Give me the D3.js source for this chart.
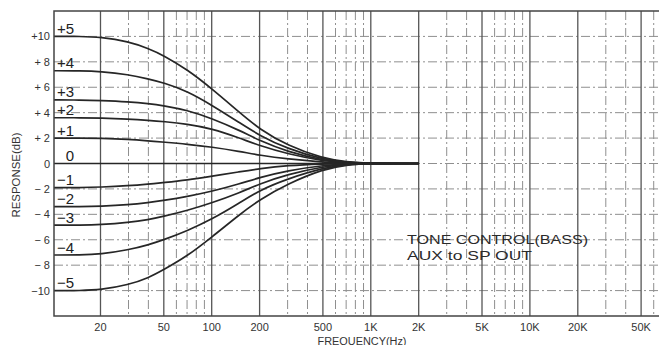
<!DOCTYPE html>
<html>
<head>
<meta charset="utf-8">
<script src="https://cdn.jsdelivr.net/npm/d3@7"></script>
<style>
  html, body { margin: 0; padding: 0; background: #fff; }
  svg { display: block; }
  text { font-family: "Liberation Sans", Arial, sans-serif; fill: #333; }
</style>
</head>
<body>
<svg id="chart" width="659" height="345"></svg>
<script>
// ---- data ----
const freqs = [10, 15, 20, 30, 40, 50, 70, 100, 150, 200, 300, 500, 700, 1000, 2000];
const seriesNames = ["+5", "+4", "+3", "+2", "+1", "0", "−1", "−2", "−3", "−4", "−5"];
const p5 = [10.0, 10.0, 9.95, 9.6, 9.05, 8.5, 7.4, 5.9, 4.0, 2.7, 1.4, 0.4, 0.12, 0, 0];
const p4 = [7.3, 7.3, 7.25, 7.0, 6.65, 6.35, 5.7, 4.6, 3.2, 2.2, 1.15, 0.32, 0.09, 0, 0];
const p3 = [5.0, 5.0, 4.95, 4.85, 4.72, 4.55, 4.2, 3.55, 2.6, 1.8, 0.92, 0.26, 0.06, 0, 0];
const p2 = [3.6, 3.6, 3.58, 3.5, 3.4, 3.3, 3.1, 2.75, 2.0, 1.4, 0.75, 0.2, 0.05, 0, 0];
const p1 = [2.0, 2.0, 1.98, 1.9, 1.78, 1.68, 1.52, 1.3, 0.95, 0.65, 0.35, 0.1, 0.02, 0, 0];
const z0 = [0, 0, 0, 0, 0, 0, 0, 0, 0, 0, 0, 0, 0, 0, 0];
const m1 = [-1.9, -1.9, -1.86, -1.75, -1.62, -1.5, -1.3, -1.0, -0.65, -0.4, -0.15, -0.03, 0, 0, 0];
const m2 = [-3.4, -3.4, -3.37, -3.25, -3.07, -2.9, -2.6, -2.2, -1.6, -1.1, -0.55, -0.15, -0.03, 0, 0];
const m3 = [-4.85, -4.85, -4.82, -4.65, -4.42, -4.15, -3.7, -3.1, -2.3, -1.6, -0.85, -0.25, -0.05, 0, 0];
const m4 = [-7.2, -7.2, -7.14, -6.8, -6.4, -6.0, -5.3, -4.4, -3.1, -2.1, -1.2, -0.35, -0.08, 0, 0];
const m5 = [-10.0, -10.0, -9.95, -9.55, -9.0, -8.35, -7.3, -5.8, -4.0, -2.85, -1.6, -0.45, -0.1, 0, 0];
const seriesValues = [p5, p4, p3, p2, p1, z0, m1, m2, m3, m4, m5];

const xTickValues = [20, 50, 100, 200, 500, 1000, 2000, 5000, 10000, 20000, 50000];
const xTickLabels = ["20", "50", "100", "200", "500", "1K", "2K", "5K", "10K", "20K", "50K"];
const xMinorValues = [30, 40, 60, 70, 80, 90, 300, 400, 600, 700, 800, 900,
                      3000, 4000, 6000, 7000, 8000, 9000, 30000, 40000, 60000, 70000];
const yTickValues = [10, 8, 6, 4, 2, 0, -2, -4, -6, -8, -10];
const yTickLabels = ["+10", "+ 8", "+ 6", "+ 4", "+ 2", "0", "− 2", "− 4", "− 6", "− 8", "−10"];
const xTitle = "FREQUENCY(Hz)";
const yTitle = "RESPONSE(dB)";
const noteLines = ["TONE CONTROL(BASS)", "AUX to SP OUT"];

// ---- layout ----
const svg = d3.select("#chart");
const plot = { left: 54, right: 659, top: 11, bottom: 316 };

const x = d3.scaleLog().domain([10, 100000]).range([52.6, 52.6 + 4 * 159.1]);
const y = d3.scaleLinear().domain([-12, 12]).range([316, 11]);

svg.append("defs").append("clipPath").attr("id", "clip")
  .append("rect").attr("x", plot.left).attr("y", plot.top)
  .attr("width", plot.right - plot.left).attr("height", plot.bottom - plot.top);

const g = svg.append("g").attr("clip-path", "url(#clip)");

// horizontal dashed grid
g.selectAll("line.hgrid").data(yTickValues).join("line")
  .attr("class", "hgrid")
  .attr("x1", plot.left).attr("x2", plot.right)
  .attr("y1", d => y(d)).attr("y2", d => y(d))
  .attr("stroke", "#8f8f8f").attr("stroke-width", 1)
  .attr("stroke-dasharray", "9,3,2,3");

// vertical minor dashed grid
g.selectAll("line.vminor").data(xMinorValues).join("line")
  .attr("class", "vminor")
  .attr("x1", d => x(d)).attr("x2", d => x(d))
  .attr("y1", plot.top).attr("y2", plot.bottom)
  .attr("stroke", "#8f8f8f").attr("stroke-width", 1)
  .attr("stroke-dasharray", "9,3,2,3");

// vertical major solid grid
g.selectAll("line.vmajor").data(xTickValues).join("line")
  .attr("class", "vmajor")
  .attr("x1", d => x(d)).attr("x2", d => x(d))
  .attr("y1", plot.top).attr("y2", plot.bottom)
  .attr("stroke", "#555").attr("stroke-width", 1.3);

// curves
const line = d3.line()
  .x(d => x(d[0]))
  .y(d => y(d[1]))
  .curve(d3.curveBasis);

g.selectAll("path.curve").data(seriesValues).join("path")
  .attr("class", "curve")
  .attr("d", vals => line(freqs.map((f, i) => [f, vals[i]])))
  .attr("fill", "none")
  .attr("stroke", "#262626")
  .attr("stroke-width", 1.7);

// frame (left, top, bottom)
svg.append("path")
  .attr("d", `M${plot.right},${plot.top}H${plot.left}V${plot.bottom}H${plot.right}`)
  .attr("fill", "none").attr("stroke", "#444").attr("stroke-width", 1.5);

// curve labels
svg.selectAll("text.slabel").data(seriesNames).join("text")
  .attr("class", "slabel")
  .attr("x", d => d === "0" ? 70 : 57)
  .attr("y", (d, i) => y(seriesValues[i][0]) - 8)
  .attr("text-anchor", d => d === "0" ? "middle" : "start")
  .attr("dominant-baseline", "central")
  .attr("font-size", 15)
  .style("fill", "#222")
  .text(d => d);

// y tick labels
svg.selectAll("text.ytick").data(yTickValues).join("text")
  .attr("class", "ytick")
  .attr("x", 50)
  .attr("y", d => y(d))
  .attr("text-anchor", "end")
  .attr("dominant-baseline", "central")
  .attr("font-size", 11)
  .text((d, i) => yTickLabels[i]);

// x tick labels
svg.selectAll("text.xtick").data(xTickValues).join("text")
  .attr("class", "xtick")
  .attr("x", d => x(d))
  .attr("y", 327)
  .attr("text-anchor", "middle")
  .attr("dominant-baseline", "central")
  .attr("font-size", 11)
  .text((d, i) => xTickLabels[i]);

// axis titles
svg.append("text")
  .attr("x", 362).attr("y", 341)
  .attr("text-anchor", "middle").attr("dominant-baseline", "central")
  .attr("font-size", 10)
  .attr("textLength", 89).attr("lengthAdjust", "spacingAndGlyphs")
  .text(xTitle);

svg.append("text")
  .attr("transform", "translate(16,175) rotate(-90)")
  .attr("text-anchor", "middle").attr("dominant-baseline", "central")
  .attr("font-size", 10)
  .attr("textLength", 85).attr("lengthAdjust", "spacingAndGlyphs")
  .text(yTitle);

// annotation
svg.selectAll("text.note").data(noteLines).join("text")
  .attr("class", "note")
  .attr("x", 407)
  .attr("y", (d, i) => 244 + i * 15.5)
  .attr("font-size", 13.5)
  .attr("textLength", (d, i) => i === 0 ? 181 : 125)
  .attr("lengthAdjust", "spacingAndGlyphs")
  .style("fill", "#2a2a2a")
  .text(d => d);
</script>
</body>
</html>
